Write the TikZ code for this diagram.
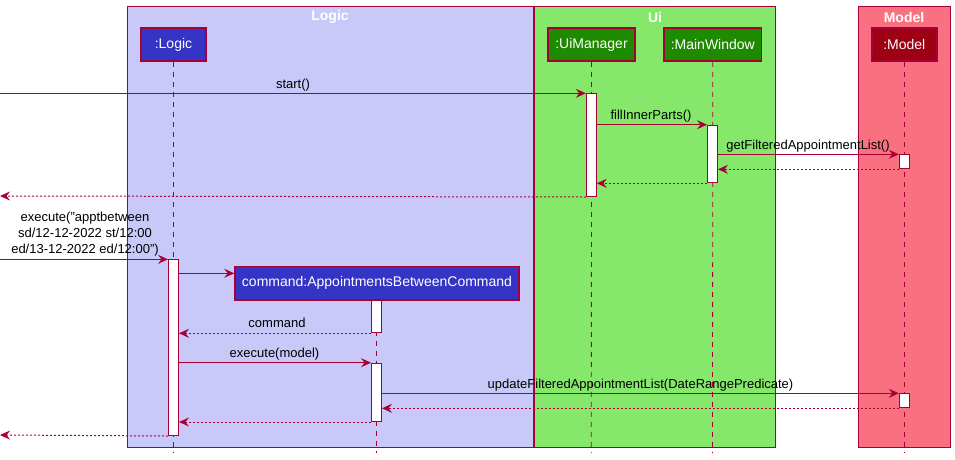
\documentclass[tikz,border=0pt]{standalone}
\usepackage{fontspec}
\setmainfont{Liberation Sans}
\usetikzlibrary{arrows.meta}
\definecolor{ln}{HTML}{A80036}
\definecolor{lgfill}{HTML}{C8C8F9}
\definecolor{uifill}{HTML}{85E86B}
\definecolor{mdfill}{HTML}{F97181}
\definecolor{lgpart}{HTML}{3434C5}
\definecolor{uipart}{HTML}{1E8A00}
\definecolor{mdpart}{HTML}{9E0014}
\tikzset{
  grp/.style={draw=ln, line width=1pt},
  grptitle/.style={text=white, font=\fontsize{14}{16}\selectfont\bfseries, inner sep=0pt},
  part/.style={draw=ln, line width=1.5pt, text=white, minimum height=33pt, inner sep=0pt, font=\fontsize{14}{16}\selectfont},
  life/.style={draw=ln, line width=0.8pt, dash pattern=on 5pt off 5pt},
  act/.style={draw=ln, fill=white, line width=1pt, minimum width=10pt, inner sep=0pt, anchor=north},
  msg/.style={draw=ln, line width=1pt, -{Stealth[length=10pt,width=9pt,inset=3.5pt]}},
  ret/.style={msg, dash pattern=on 2pt off 2pt},
  lbl/.style={font=\fontsize{13}{16}\selectfont, inner sep=0pt, anchor=base, text=black}
}
\begin{document}
\begin{tikzpicture}[x=1pt,y=-1pt]
\useasboundingbox (0,0) rectangle (955,459);
% groups
\node[grp, fill=lgfill, minimum width=405.4pt, minimum height=441pt, anchor=north west, inner sep=0pt] (gLogic) at (127.3,6.3) {};
\node[grp, fill=uifill, minimum width=241pt, minimum height=441pt, anchor=north west, inner sep=0pt] (gUi) at (534.3,6.3) {};
\node[grp, fill=mdfill, minimum width=91.7pt, minimum height=441pt, anchor=north west, inner sep=0pt] (gModel) at (858.3,6.3) {};
\node[grptitle] (tLogic) at (330,17) {Logic};
\node[grptitle] (tUi) at (655,17) {Ui};
\node[grptitle] (tModel) at (904,17) {Model};
% participants
\node[part, fill=lgpart, minimum width=65pt] (pLogic) at (173.5,44.5) {:Logic};
\node[part, fill=uipart, minimum width=87pt] (pUi) at (591.5,44.5) {:UiManager};
\node[part, fill=uipart, minimum width=97.7pt] (pMw) at (712.8,44.5) {:MainWindow};
\node[part, fill=mdpart, minimum width=65pt] (pMd) at (904.3,44.5) {:Model};
% lifeline ends
\coordinate (eLogic) at (173.5,453);
\coordinate (eUi) at (591.3,453);
\coordinate (eMw) at (712.5,453);
\coordinate (eMd) at (904.3,453);
\coordinate (eCm) at (376.5,453);
\draw[life] (pLogic) -- (eLogic);
\draw[life] (pUi) -- (eUi);
\draw[life] (pMw) -- (eMw);
\draw[life] (pMd) -- (eMd);
% command participant
\node[part, fill=lgpart, minimum width=284pt, minimum height=33.3pt] (pCm) at (377,283.3) {command:AppointmentsBetweenCommand};
\draw[life] (pCm.south -| eCm) -- (eCm);
% activations
\node[act, minimum height=102.7pt] (uiA) at (591.3,93.3) {};
\node[act, minimum height=57.6pt] (mwA) at (712.5,124.7) {};
\node[act, minimum height=14pt] (mdA1) at (904.3,154.3) {};
\node[act, minimum height=175.7pt] (lgA) at (173.5,259.3) {};
\node[act, minimum height=32.3pt] (cmA1) at (376.5,300) {};
\node[act, minimum height=58.3pt] (cmA2) at (376.5,362.7) {};
\node[act, minimum height=14pt] (mdA2) at (904.3,393.3) {};
% free ends
\coordinate (in1) at (0,93.3);
\coordinate (out1) at (0,196);
\coordinate (in2) at (0,259.3);
\coordinate (out2) at (0,435);
\coordinate (cr) at (0,273.3);
% messages
\draw[msg] (in1) -- (uiA.north west);
\node[lbl] (l1) at (293,88.5) {start()};
\draw[msg] (uiA.east |- mwA.north) -- (mwA.north west);
\node[lbl] (l2) at (651,119.5) {fillInnerParts()};
\draw[msg] (mwA.east |- mdA1.north) -- (mdA1.north west);
\node[lbl] (l3) at (808,149) {getFilteredAppointmentList()};
\draw[ret] (mdA1.south west) -- (mwA.east |- mdA1.south);
\draw[ret] (mwA.south west) -- (uiA.east |- mwA.south);
\draw[ret] (uiA.south west) -- (out1);
\draw[msg] (in2) -- (lgA.north west);
\node[font=\fontsize{13}{16.3}\selectfont, inner sep=0pt, align=center, anchor=south] (l4) at (85,256.5) {execute("apptbetween\\sd/12-12-2022 st/12:00\\ed/13-12-2022 ed/12:00")};
\draw[msg] (lgA.east |- cr) -- (pCm.west |- cr);
\draw[ret] (cmA1.south west) -- (lgA.east |- cmA1.south);
\node[lbl] (l5) at (277,327.5) {command};
\draw[msg] (lgA.east |- cmA2.north) -- (cmA2.north west);
\node[lbl] (l6) at (274.5,357.5) {execute(model)};
\draw[msg] (cmA2.east |- mdA2.north) -- (mdA2.north west);
\node[lbl] (l7) at (640.5,388) {updateFilteredAppointmentList(DateRangePredicate)};
\draw[ret] (mdA2.south west) -- (cmA2.east |- mdA2.south);
\draw[ret] (cmA2.south west) -- (lgA.east |- cmA2.south);
\draw[ret] (lgA.south west) -- (out2);
\end{tikzpicture}
\end{document}
